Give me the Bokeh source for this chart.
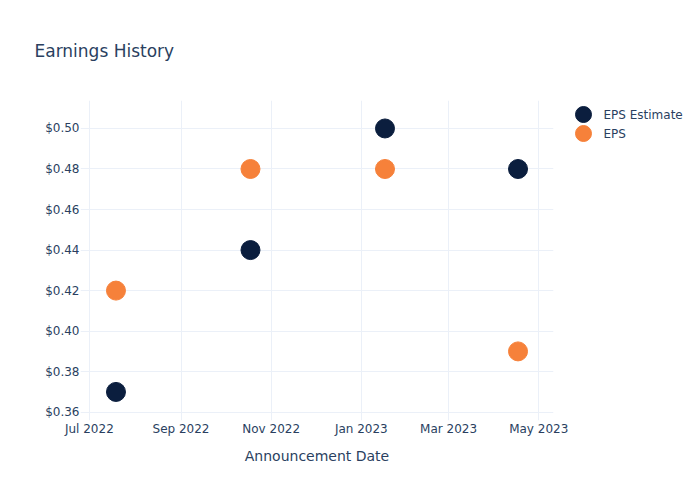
from datetime import datetime
from bokeh.plotting import figure
from bokeh.layouts import row
from bokeh.models import (ColumnDataSource, FixedTicker, NumeralTickFormatter, Range1d)
from bokeh.core.properties import value
from bokeh.embed import file_html
from bokeh.resources import INLINE

dates = ["2022-07-19", "2022-10-18", "2023-01-17", "2023-04-17"]
eps_estimate = [0.37, 0.44, 0.50, 0.48]
eps_actual = [0.42, 0.48, 0.48, 0.39]
x_tick_dates = ["2022-07-01", "2022-09-01", "2022-11-01", "2023-01-01", "2023-03-01", "2023-05-01"]
x_tick_labels = ["Jul 2022", "Sep 2022", "Nov 2022", "Jan 2023", "Mar 2023", "May 2023"]
y_ticks = [0.36, 0.38, 0.40, 0.42, 0.44, 0.46, 0.48, 0.50]
series_names = ["EPS Estimate", "EPS"]

FONT = "DejaVu Sans"
TXT = "#2a3f5f"
GRID = "#ebf0f8"
NAVY = "#0b1e3e"
ORANGE = "#f6813a"
series_colors = [NAVY, ORANGE]

def ms(s):
    return datetime.strptime(s, "%Y-%m-%d").timestamp() * 1000.0

xs = [datetime.strptime(d, "%Y-%m-%d") for d in dates]
src = ColumnDataSource(dict(x=xs, est=eps_estimate, eps=eps_actual))

p = figure(width=574, height=484, x_axis_type="datetime", output_backend="svg",
           toolbar_location=None, min_border_left=80, min_border_right=21,
           min_border_top=100, min_border_bottom=64,
           x_range=Range1d(ms("2022-06-25"), ms("2023-05-11")),
           y_range=Range1d(0.3559, 0.5138),
           title="Earnings History")
p.outline_line_color = None
p.background_fill_color = "white"
p.title.text_font = FONT
p.title.text_font_size = "17px"
p.title.text_color = TXT
p.title.text_font_style = "normal"
p.title.offset = -46
p.title.vertical_align = "top"
p.title.standoff = 76

p.scatter("x", "est", source=src, size=19, color=series_colors[0])
p.scatter("x", "eps", source=src, size=19, color=series_colors[1])

tick_ms = [ms(d) for d in x_tick_dates]
p.xaxis.ticker = FixedTicker(ticks=tick_ms)
p.xaxis.major_label_overrides = {t: l for t, l in zip(tick_ms, x_tick_labels)}
p.yaxis.ticker = FixedTicker(ticks=y_ticks)
p.yaxis.formatter = NumeralTickFormatter(format="$0.00")

for ax in (p.xaxis[0], p.yaxis[0]):
    ax.axis_line_color = None
    ax.major_tick_line_color = None
    ax.minor_tick_line_color = None
    ax.major_tick_out = 0
    ax.major_tick_in = 0
    ax.minor_tick_out = 0
    ax.minor_tick_in = 0
    ax.major_label_text_font = FONT
    ax.major_label_text_font_size = "12px"
    ax.major_label_text_color = TXT
p.xaxis.major_label_standoff = 1
p.yaxis.major_label_standoff = 1
p.xaxis.axis_label = "Announcement Date"
p.xaxis.axis_label_text_font = FONT
p.xaxis.axis_label_text_font_size = "14px"
p.xaxis.axis_label_text_color = TXT
p.xaxis.axis_label_text_font_style = "normal"
p.xaxis.axis_label_standoff = 9

p.xgrid.grid_line_color = GRID
p.ygrid.grid_line_color = GRID

# Legend drawn in a small side panel; its frame is aligned with the main frame
# (page pixels 100..420 vertically), so the y range is given in page pixels, top-down.
LEG_W, LEG_H = 110, 484
leg = figure(width=LEG_W, height=LEG_H, output_backend="svg", toolbar_location=None,
             x_range=Range1d(0, LEG_W), y_range=Range1d(420, 100),
             min_border=0, x_axis_location=None, y_axis_location=None)
leg.outline_line_color = None
leg.xgrid.visible = False
leg.ygrid.visible = False
row_y = [114 + 19 * i for i in range(len(series_names))]
lsrc = ColumnDataSource(dict(x=[9] * len(series_names), tx=[29] * len(series_names),
                             y=row_y, name=series_names, color=series_colors))
leg.scatter("x", "y", source=lsrc, size=16, color="color")
leg.text("tx", "y", text="name", source=lsrc, text_font=value(FONT),
         text_font_size="12px", text_color=TXT, text_baseline="middle")

layout = row(p, leg)
open("out.html", "w").write(file_html(layout, INLINE))
